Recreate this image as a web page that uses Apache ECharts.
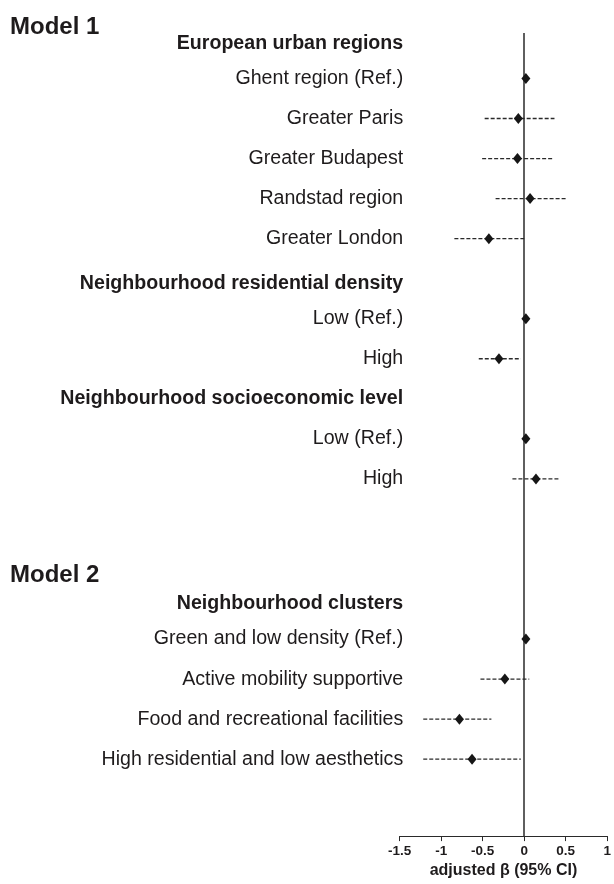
<!DOCTYPE html>
<html>
<head>
<meta charset="utf-8">
<script src="https://cdn.jsdelivr.net/npm/echarts@6/dist/echarts.min.js"></script>
<style>
html,body{margin:0;padding:0;background:#fff;}
#chart{width:614px;height:884px;}
</style>
</head>
<body>
<div id="chart"></div>
<script>
// Row labels (top to bottom); '' rows are spacer rows
var categories = [
  'European urban regions',
  'Ghent region (Ref.)',
  'Greater Paris',
  'Greater Budapest',
  'Randstad region',
  'Greater London',
  'Neighbourhood residential density',
  'Low (Ref.)',
  'High',
  'Neighbourhood socioeconomic level',
  'Low (Ref.)',
  'High',
  '',
  '',
  'Neighbourhood clusters',
  'Green and low density (Ref.)',
  'Active mobility supportive',
  'Food and recreational facilities',
  'High residential and low aesthetics'
];
var headerRows = [0, 6, 9, 14];
var estimates = [null, 0, -0.09, -0.10, 0.05, -0.44, null, 0, -0.32, null, 0, 0.12, null, null, null, 0, -0.25, -0.79, -0.64];
var lower     = [null, null, -0.49, -0.52, -0.36, -0.85, null, null, -0.56, null, null, -0.16, null, null, null, null, -0.54, -1.22, -1.22];
var upper     = [null, null, 0.34, 0.33, 0.48, -0.02, null, null, -0.06, null, null, 0.41, null, null, null, null, 0.04, -0.41, -0.06];
var modelTitles = ['Model 1', 'Model 2'];
var xTicks = { min: -1.5, max: 1, interval: 0.5 };
var xName = 'adjusted \u03b2 (95% CI)';

var FONT = "'Liberation Sans', Arial, Helvetica, sans-serif";
var TXT = '#1e1b1c';
var LINE = '#2a2a2a';

var pointData = [];
var ciData = [];
for (var i = 0; i < categories.length; i++) {
  if (estimates[i] !== null) pointData.push([estimates[i], i]);
  if (lower[i] !== null && upper[i] !== null) ciData.push([i, lower[i], upper[i]]);
}

var chart = echarts.init(document.getElementById('chart'), null, { renderer: 'canvas' });

var option = {
  backgroundColor: '#ffffff',
  animation: false,
  title: [
    { text: modelTitles[0], left: 10, top: 15, padding: 0,
      textStyle: { fontFamily: FONT, fontSize: 24, fontWeight: 'bold', color: TXT } },
    { text: modelTitles[1], left: 10, top: 563, padding: 0,
      textStyle: { fontFamily: FONT, fontSize: 24, fontWeight: 'bold', color: TXT } }
  ],
  grid: [
    { left: 399.7, right: 4, top: 33, bottom: 43 },
    { left: 399.7, right: 4, top: 18.4, height: 760.8 }
  ],
  xAxis: [
    {
      gridIndex: 0, type: 'value', min: xTicks.min, max: xTicks.max, interval: xTicks.interval,
      splitLine: { show: false },
      axisLine: { show: true, onZero: false, lineStyle: { color: LINE, width: 1 } },
      axisTick: { show: true, length: 5, inside: false, lineStyle: { color: LINE, width: 1 } },
      axisLabel: { fontFamily: FONT, fontSize: 13.5, fontWeight: 'bold', color: TXT, margin: 8,
        formatter: function (v) { return String(v); } },
      name: xName, nameLocation: 'middle', nameGap: 19,
      nameTextStyle: { fontFamily: FONT, fontSize: 16, fontWeight: 'bold', color: TXT }
    },
    {
      gridIndex: 1, type: 'value', min: xTicks.min, max: xTicks.max, show: false
    }
  ],
  yAxis: [
    { gridIndex: 0, type: 'value', min: 0, max: 1, show: false },
    {
      gridIndex: 1, type: 'category', inverse: true, data: categories, boundaryGap: true,
      axisLine: { show: false }, axisTick: { show: false }, splitLine: { show: false },
      axisLabel: {
        interval: 0, margin: -3.5, fontFamily: FONT, fontSize: 19.6, color: TXT,
        formatter: function (v, idx) {
          if (headerRows.indexOf(idx) >= 0) {
            return (idx === 9 ? '{h|' : '{hs|') + v + '}';
          }
          return v;
        },
        rich: {
          h: { fontFamily: FONT, fontSize: 19.6, fontWeight: 'bold', color: TXT },
          hs: { fontFamily: FONT, fontSize: 19.6, fontWeight: 'bold', color: TXT, padding: [10, 0, 0, 0] }
        }
      }
    }
  ],
  series: [
    {
      type: 'scatter', xAxisIndex: 0, yAxisIndex: 0, data: [], silent: true,
      markLine: {
        silent: true, symbol: ['none', 'none'], label: { show: false },
        lineStyle: { color: LINE, width: 1.5, type: 'solid' },
        data: [{ xAxis: 0 }]
      }
    },
    {
      type: 'custom', xAxisIndex: 1, yAxisIndex: 1, data: ciData, z: 3,
      encode: { x: [1, 2], y: 0 },
      renderItem: function (params, api) {
        var y = api.value(0);
        var p1 = api.coord([api.value(1), y]);
        var p2 = api.coord([api.value(2), y]);
        return {
          type: 'line',
          shape: { x1: p1[0], y1: p1[1], x2: p2[0], y2: p2[1] },
          style: { stroke: LINE, lineWidth: 1.3, lineDash: [4, 2] }
        };
      }
    },
    {
      type: 'scatter', xAxisIndex: 1, yAxisIndex: 1, data: pointData, z: 5,
      symbol: 'diamond', symbolSize: [9, 11],
      itemStyle: { color: '#161616', opacity: 1 }
    }
  ]
};
chart.setOption(option);
</script>
</body>
</html>
